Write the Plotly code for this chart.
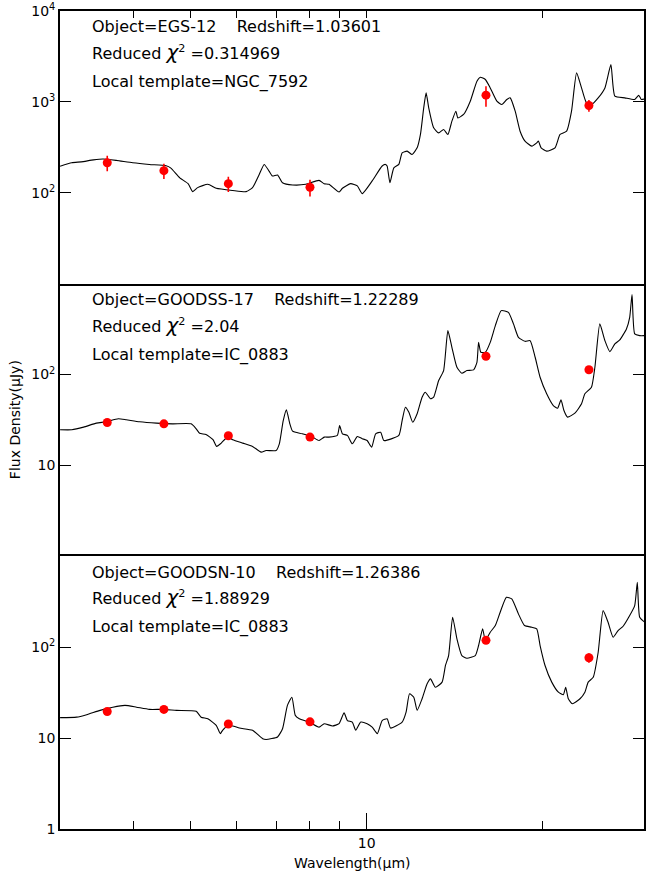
import plotly.graph_objects as go

# ---------------------------------------------------------------
# Template SEDs (wavelength in micron, flux density in microJy)
# ---------------------------------------------------------------
lam_egs12 = [2.99, 3.13, 3.25, 3.41, 3.54, 3.73, 3.98, 4.25, 4.54, 4.62,
             4.79, 4.95, 5.04, 5.14, 5.35, 5.53, 5.90, 6.22, 6.38, 6.55,
             6.68, 6.81, 6.90, 7.04, 7.18, 7.47, 7.87, 8.29, 8.46, 8.62,
             8.97, 9.09, 9.39, 9.64, 9.83, 10.22, 10.63, 10.77, 10.84, 10.96,
             11.13, 11.35, 11.50, 11.73, 11.96, 12.20, 12.36, 12.52, 12.64, 12.77,
             13.02, 13.28, 13.54, 13.77, 13.99, 14.21, 14.32, 14.65, 15.04, 15.44,
             15.65, 15.96, 16.27, 16.70, 17.03, 17.37, 17.60, 17.95, 18.30, 18.66,
             19.16, 19.54, 19.67, 19.88, 20.32, 21.00, 21.42, 21.98, 22.41, 22.86,
             23.31, 23.77, 24.24, 24.89, 25.56, 26.17, 26.58, 27.64, 28.74, 29.20,
             29.50, 29.90]
flux_egs12 = [196, 214, 219, 230, 235, 227, 214, 205, 198, 188,
              146, 126, 103, 114, 124, 112, 106, 103, 114, 159,
              205, 173, 153, 157, 129, 122, 124, 137, 126, 124,
              102, 112, 126, 119, 98, 135, 197, 205, 197, 129,
              188, 205, 275, 287, 264, 312, 438, 859, 1256, 859,
              518, 456, 497, 438, 614, 790, 667, 727, 1018, 1689,
              1868, 1763, 1425, 1018, 936, 1063, 1107, 790, 476, 370,
              326, 354, 370, 312, 287, 312, 438, 476, 790, 2083,
              1425, 975, 936, 1107, 1425, 2576, 1155, 1107, 1063, 1185,
              1063, 1079]

lam_goodss17 = [2.99, 3.13, 3.28, 3.45, 3.58, 3.76, 3.88, 4.09, 4.37, 4.66,
                5.01, 5.11, 5.18, 5.31, 5.46, 5.54, 5.64, 5.78, 5.90, 6.14,
                6.38, 6.60, 6.73, 7.00, 7.09, 7.20, 7.29, 7.39, 7.47, 7.76,
                8.08, 8.29, 8.46, 8.62, 8.91, 8.99, 9.09, 9.27, 9.45, 9.64,
                9.83, 10.02, 10.20, 10.36, 10.57, 10.70, 11.35, 11.50, 11.65, 11.81,
                11.99, 12.20, 12.44, 12.60, 12.86, 13.02, 13.28, 13.54, 13.77, 13.99,
                14.27, 14.55, 14.84, 15.24, 15.44, 15.54, 15.68, 15.96, 16.27, 16.60,
                16.99, 17.48, 17.83, 18.18, 18.66, 19.04, 19.42, 19.80, 20.32, 20.86,
                21.21, 21.50, 21.75, 22.06, 22.71, 23.31, 23.62, 24.24, 24.57, 25.05,
                25.56, 26.06, 26.58, 27.10, 27.82, 28.18, 28.44, 28.74, 29.31, 29.90]
flux_goodss17 = [24.7, 24.7, 26.4, 29.2, 30.2, 32.6, 31.8, 30.2, 29.2, 28.7,
                 28.7, 25.3, 22.6, 21.9, 19.2, 16.2, 17.6, 20.5, 19.2, 17.6,
                 16.2, 14.0, 14.6, 14.6, 17.3, 31.2, 40.9, 28.7, 23.8, 22.3,
                 20.5, 18.8, 20.5, 20.5, 21.4, 27.5, 22.3, 21.4, 17.3, 20.8,
                 19.7, 18.8, 15.9, 22.3, 23.2, 18.8, 21.4, 31.2, 43.7, 38.5,
                 29.9, 37.0, 56.3, 63.9, 54.1, 56.3, 85.9, 110.7, 304, 199.5,
                 120.3, 103.3, 110.7, 112.6, 136.5, 226, 175.8, 175.8, 226, 345.6,
                 505, 484, 360.7, 257, 232, 236, 155, 93.4, 61.4, 45.6,
                 42.6, 52.7, 40.2, 34.0, 37.6, 47.6, 61.4, 72.5, 120.3, 360.7,
                 236, 178.9, 217.5, 240.6, 317.8, 426.5, 757, 280, 268, 268]

lam_goodsn10 = [2.99, 3.19, 3.32, 3.50, 3.68, 3.86, 4.04, 4.25, 4.48, 4.73,
                5.11, 5.21, 5.35, 5.53, 5.62, 5.67, 5.78, 5.90, 6.06, 6.38,
                6.64, 6.73, 7.04, 7.18, 7.32, 7.45, 7.55, 7.67, 7.98, 8.29,
                8.46, 8.74, 8.97, 9.15, 9.27, 9.45, 9.58, 9.77, 10.02, 10.22,
                10.43, 10.63, 10.84, 10.99, 11.50, 11.68, 11.84, 12.04, 12.20, 12.44,
                12.69, 12.86, 13.11, 13.46, 13.64, 13.81, 14.03, 14.27, 14.55, 14.84,
                15.34, 15.54, 15.79, 15.96, 16.27, 16.60, 16.92, 17.34, 17.71, 18.18,
                18.62, 19.16, 19.54, 19.80, 20.19, 20.73, 21.28, 21.70, 21.90, 22.13,
                22.48, 23.17, 23.62, 23.93, 24.41, 24.89, 25.38, 25.88, 26.40, 26.92,
                27.46, 28.18, 28.74, 29.04, 29.31, 29.90]
flux_goodsn10 = [16.8, 17.0, 18.1, 20.2, 21.9, 22.9, 21.9, 20.7, 20.7, 20.2,
                 19.7, 17.0, 16.3, 13.8, 11.2, 12.2, 13.6, 13.6, 12.9, 12.2,
                 9.85, 9.67, 10.3, 12.7, 22.9, 28.2, 17.8, 16.3, 15.0, 13.2,
                 14.4, 13.6, 14.4, 19.0, 15.6, 15.0, 12.2, 15.0, 14.4, 13.2,
                 11.2, 15.6, 16.3, 12.9, 15.0, 19.3, 30.7, 28.2, 20.2, 27.1,
                 39.6, 44.9, 36.3, 41.3, 63.0, 81.0, 213.7, 123.7, 81.0, 75.7,
                 81.0, 104.4, 159.3, 118.5, 146.2, 173.2, 242.4, 354.4, 340.3, 232.8,
                 173.2, 165.9, 159.3, 104.4, 63.0, 41.3, 32.0, 30.0, 36.3, 27.1,
                 23.9, 27.1, 32.0, 41.3, 46.8, 88.1, 253, 188.2, 128.8, 152.6,
                 170.2, 223, 287, 518, 213.7, 188.2]

# ---------------------------------------------------------------
# Photometry (IRAC 3.6-8.0, IRS 16, MIPS 24 micron)
# ---------------------------------------------------------------
lam_phot = [3.6, 4.5, 5.8, 8.0, 16.0, 24.0]
phot_egs12 = [214, 175, 126, 115, 1186, 912]
err_egs12 = [42, 33, 24, 24, 300, 135]
phot_goodss17 = [29.7, 28.7, 21.2, 20.5, 159, 113]
err_goodss17 = [0, 0, 0, 0, 0, 0]
phot_goodsn10 = [19.6, 20.7, 14.3, 15.1, 119, 76.6]
err_goodsn10 = [0, 0, 0, 0, 0, 9]

objects = ["EGS-12", "GOODSS-17", "GOODSN-10"]
redshifts = ["1.03601", "1.22289", "1.26386"]
chi2 = ["0.314969", "2.04", "1.88929"]
templates = ["NGC_7592", "IC_0883", "IC_0883"]

y_ranges = [[1, 4], [0, 3], [0, 3]]
y_ticks = [[100, 1000, 10000], [10, 100], [1, 10, 100]]
y_ticktext = [["10<sup>2</sup>", "10<sup>3</sup>", "10<sup>4</sup>"],
              ["10", "10<sup>2</sup>"],
              ["1", "10", "10<sup>2</sup>"]]

seds = [(lam_egs12, flux_egs12), (lam_goodss17, flux_goodss17),
        (lam_goodsn10, flux_goodsn10)]
phots = [(phot_egs12, err_egs12), (phot_goodss17, err_goodss17),
         (phot_goodsn10, err_goodsn10)]

FONT = "DejaVu Sans"
domains = [[2 / 3, 1.0], [1 / 3, 2 / 3], [0.0, 1 / 3]]
x_range = [0.4755, 1.4744]

fig = go.Figure()
layout = dict(
    width=647, height=875,
    margin=dict(l=60, r=1, t=10, b=46),
    paper_bgcolor="white", plot_bgcolor="white",
    showlegend=False,
    font=dict(family=FONT, size=14, color="black"),
)

annotations = []
for i in range(3):
    sfx = "" if i == 0 else str(i + 1)
    xa, ya = "x" + sfx, "y" + sfx
    lam, flux = seds[i]
    ph, er = phots[i]
    fig.add_trace(go.Scatter(x=lam, y=flux, mode="lines",
                             line=dict(color="black", width=1.1,
                                       shape="spline", smoothing=0.5),
                             xaxis=xa, yaxis=ya, hoverinfo="skip"))
    fig.add_trace(go.Scatter(x=lam_phot, y=ph, mode="markers",
                             marker=dict(color="#ff0000", size=9),
                             error_y=dict(type="data", array=er, color="#ff0000",
                                          thickness=1.6, width=0, visible=True),
                             xaxis=xa, yaxis=ya))

    # outer frame: top panel draws top + its bottom edge, bottom panel draws
    # its top edge + bottom; the middle panel relies on those shared edges
    xax = dict(type="log", range=x_range, anchor=ya, showgrid=False,
               zeroline=False, showline=(i != 1), linecolor="black",
               linewidth=1.8, mirror=True, showticklabels=False, ticks="")
    if i > 0:
        xax["matches"] = "x"
    if i == 0:
        xax.update(side="top", ticks="inside", ticklen=7, tickwidth=1,
                   tickcolor="black", tickmode="array",
                   tickvals=[4, 5, 6, 7, 8, 9, 10, 20])
    if i == 2:
        xax.update(side="bottom", ticks="inside", ticklen=16, tickwidth=1,
                   tickcolor="black", tickmode="array", tickvals=[10],
                   ticktext=["10"], showticklabels=True,
                   tickfont=dict(family=FONT, size=14),
                   minor=dict(ticks="inside", ticklen=8, tickwidth=1,
                              tickcolor="black", tickmode="array",
                              tickvals=[4, 5, 6, 7, 8, 9, 20]))
    yax = dict(type="log", range=y_ranges[i], domain=domains[i], anchor=xa,
               showgrid=False, zeroline=False, showline=True,
               linecolor="black", linewidth=1.8, mirror="ticks",
               ticks="inside", ticklen=11, tickwidth=1, tickcolor="black",
               tickmode="array", tickvals=y_ticks[i], ticktext=y_ticktext[i],
               tickfont=dict(family=FONT, size=14))
    layout["xaxis" + sfx] = xax
    layout["yaxis" + sfx] = yax

    lines = [
        f"Object={objects[i]}    Redshift={redshifts[i]}",
        "Reduced <span style='font-size:20px'><i>χ</i></span><sup>2</sup> =" + chi2[i],
        f"Local template={templates[i]}",
    ]
    offsets = [15, 40, 70]
    for txt, off in zip(lines, offsets):
        annotations.append(dict(
            text=txt, xref="x domain" if i == 0 else f"x{i + 1} domain",
            yref=f"{ya} domain", x=30 / 586, y=1 - (off + 1) / 273,
            xanchor="left", yanchor="middle", showarrow=False,
            font=dict(family=FONT, size=16, color="black")))

annotations.append(dict(text="Flux Density(μJy)", xref="paper", yref="paper",
                        x=-45 / 586, y=0.5, xanchor="center", yanchor="middle",
                        textangle=-90, showarrow=False,
                        font=dict(family=FONT, size=14, color="black")))
annotations.append(dict(text="Wavelength(μm)", xref="paper", yref="paper",
                        x=0.5, y=-34 / 819, xanchor="center", yanchor="middle",
                        showarrow=False,
                        font=dict(family=FONT, size=14, color="black")))
layout["annotations"] = annotations

fig.update_layout(**layout)
fig.write_html("out.html")
